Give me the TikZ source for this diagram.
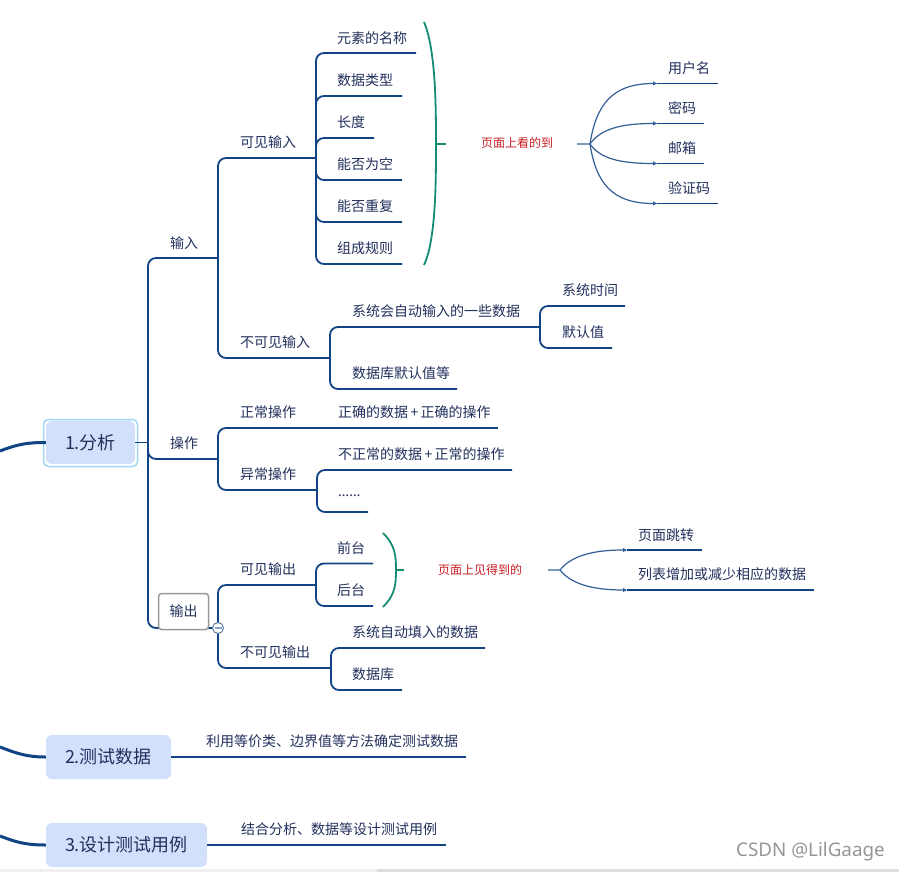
\documentclass[tikz,border=0pt]{standalone}
\usepackage{fontspec}
\setmainfont{Noto Sans CJK SC}
\newfontfamily\latinsans{Noto Sans}
\usetikzlibrary{arrows.meta}
\definecolor{ln}{RGB}{16,68,132}
\definecolor{tx}{RGB}{34,48,92}
\definecolor{boxfill}{RGB}{211,224,252}
\definecolor{selb}{RGB}{160,214,247}
\definecolor{brc}{RGB}{20,140,115}
\definecolor{redt}{RGB}{200,30,35}
\definecolor{fanc}{RGB}{50,95,150}
\definecolor{stubc}{RGB}{125,155,190}
\definecolor{wm}{RGB}{150,150,150}
\begin{document}
\begin{tikzpicture}[x=1pt,y=-1pt,
  conn/.style={draw=ln,line width=1.8pt,rounded corners=8pt},
  rootc/.style={draw=ln,line width=3pt},
  lbl/.style={anchor=west,inner sep=0pt,text=tx,font=\fontsize{14}{16}\selectfont},
  redl/.style={anchor=west,inner sep=0pt,text=redt,font=\fontsize{12}{14}\selectfont},
  topic/.style={rounded corners=6pt,fill=boxfill,inner sep=0pt,text=tx,font=\fontsize{18}{20}\selectfont},
  bracec/.style={draw=brc,line width=1.8pt},
  fanl/.style={draw=fanc,line width=1.2pt,-{Triangle[length=4pt,width=4pt]}},
  stubl/.style={draw=stubc,line width=2pt},
]
\useasboundingbox (0,0) rectangle (899,872);
\fill[white] (0,0) rectangle (899,872);
% bottom bar
\fill[black!6] (0,869) rectangle (377,872);
\fill[black!13] (377,869) rectangle (899,872);

% ---- main topics
\node[topic,minimum width=89pt,minimum height=43pt] (A) at (90.5,442.5) {1.分析};
\draw[selb,line width=1.5pt,rounded corners=5pt] (43.5,419.5) rectangle (137.5,466.5);
\node[topic,minimum width=125pt,minimum height=44pt] (B) at (108.5,757) {2.测试数据};
\node[topic,minimum width=161pt,minimum height=44pt] (C) at (126.5,845) {3.设计测试用例};

\coordinate (rA) at (0,451);
\coordinate (rB) at (0,747);
\coordinate (rC) at (0,836);
\draw[rootc] (rA) .. controls (18,444) and (28,442.5) .. (A.west);
\draw[rootc] (rB) .. controls (18,754) and (28,757) .. (B.west);
\draw[rootc] (rC) .. controls (18,843) and (28,845) .. (C.west);

% ---- coordinates (ends of underlines)
\coordinate (jA) at (148,442.5);
\coordinate (in) at (218,258);
\coordinate (op) at (218,459);
\coordinate (out) at (218,628);
\coordinate (kj) at (316,158);
\coordinate (bkj) at (330,358);
\coordinate (k1) at (416,53);
\coordinate (k2) at (402,96);
\coordinate (k3) at (374,138);
\coordinate (k4) at (402,180);
\coordinate (k5) at (402,222);
\coordinate (k6) at (402,264);
\coordinate (b1) at (540,327);
\coordinate (b2) at (457,389);
\coordinate (b11) at (625,306);
\coordinate (b12) at (612,348);
\coordinate (o1) at (316,428);
\coordinate (o2) at (317,490);
\coordinate (o11) at (498,428);
\coordinate (o21) at (512,470);
\coordinate (o22) at (368,512);
\coordinate (v1) at (316,585);
\coordinate (v2) at (331,668);
\coordinate (v11) at (373,563.5);
\coordinate (v12) at (373,606);
\coordinate (v21) at (485,648);
\coordinate (v22) at (402,690);

% ---- connectors
\draw[conn] (A.east) -- (jA);
\draw[conn] (jA) |- (in);
\draw[conn] (jA) |- (op);
\draw[conn] (jA) |- (out);
\draw[conn] (in) |- (kj);
\draw[conn] (in) |- (bkj);
\foreach \k in {k1,k2,k3,k4,k5,k6} \draw[conn] (kj) |- (\k);
\draw[conn] (bkj) |- (b1);
\draw[conn] (bkj) |- (b2);
\draw[conn] (b1) |- (b11);
\draw[conn] (b1) |- (b12);
\draw[conn] (op) |- (o1);
\draw[conn] (op) |- (o2);
\draw[conn] (o1) -- (o11);
\draw[conn] (o2) |- (o21);
\draw[conn] (o2) |- (o22);
\draw[conn] (out) |- (v1);
\draw[conn] (out) |- (v2);
\draw[conn] (v1) |- (v11);
\draw[conn] (v1) |- (v12);
\draw[conn] (v2) |- (v21);
\draw[conn] (v2) |- (v22);
\coordinate (Bl) at (466,757);
\coordinate (Cl) at (446,845);
\draw[conn] (B.east) -- (Bl);
\draw[conn] (C.east) -- (Cl);

% ---- labels
\node[lbl] (t-in) at (170,243) {输入};
\node[lbl] (t-op) at (170,443) {操作};
\node[draw=black!40,line width=1.5pt,rounded corners=3pt,fill=white,minimum width=50pt,minimum height=36pt,inner sep=0pt,text=tx,font=\fontsize{14}{16}\selectfont] (t-out) at (183.5,611.5) {输出};
\node[circle,draw=ln!70,fill=white,line width=1pt,minimum size=11pt,inner sep=0pt] (col) at (out) {};
\draw[ln!50,line width=1.5pt] ([xshift=-3.5pt]col.center) -- ([xshift=3.5pt]col.center);

\node[lbl] (t-kj) at (240,142) {可见输入};
\node[lbl] (t-bkj) at (240,342) {不可见输入};
\node[lbl] (t-k1) at (337,38) {元素的名称};
\node[lbl] (t-k2) at (337,80) {数据类型};
\node[lbl] (t-k3) at (337,122) {长度};
\node[lbl] (t-k4) at (337,164) {能否为空};
\node[lbl] (t-k5) at (337,206) {能否重复};
\node[lbl] (t-k6) at (337,248) {组成规则};
\node[lbl] (t-b1) at (352,311) {系统会自动输入的一些数据};
\node[lbl] (t-b2) at (352,373) {数据库默认值等};
\node[lbl] (t-b11) at (562,290) {系统时间};
\node[lbl] (t-b12) at (562,332) {默认值};
\node[lbl] (t-o1) at (240,412) {正常操作};
\node[lbl] (t-o2) at (240,474) {异常操作};
\node[lbl] (t-o11) at (338,412) {正确的数据\,+\,正确的操作};
\node[lbl] (t-o21) at (338,454) {不正常的数据\,+\,正常的操作};
\node[lbl] (t-o22) at (338,496) {{\latinsans ……}};
\node[lbl] (t-v1) at (240,569) {可见输出};
\node[lbl] (t-v2) at (240,652) {不可见输出};
\node[lbl] (t-v11) at (337,548) {前台};
\node[lbl] (t-v12) at (337,590) {后台};
\node[lbl] (t-v21) at (352,632) {系统自动填入的数据};
\node[lbl] (t-v22) at (352,674) {数据库};
\node[lbl] (t-B) at (206,741) {利用等价类、边界值等方法确定测试数据};
\node[lbl] (t-C) at (241,829) {结合分析、数据等设计测试用例};

% ---- brace 1 and fan 1
\coordinate (br1t) at (424,22);
\coordinate (br1b) at (424,265);
\coordinate (br1m) at (436,144);
\coordinate (br1x) at (446,144);
\draw[bracec] (br1t) .. controls (436,50) and (436,110) .. (br1m) .. controls (436,180) and (436,240) .. (br1b);
\draw[bracec] (br1m) -- (br1x);
\node[redl] (fa) at (481,143) {页面上看的到};
\coordinate (fa0) at (577,144);
\coordinate (fa1) at (590,144);
\draw[stubl] (fa0) -- (fa1);
\coordinate (u1s) at (657,83.5);
\coordinate (u2s) at (657,123.5);
\coordinate (u3s) at (657,163.5);
\coordinate (u4s) at (657,203.5);
\coordinate (u1) at (718,83.5);
\coordinate (u2) at (704,123.5);
\coordinate (u3) at (704,163.5);
\coordinate (u4) at (718,203.5);
\draw[fanl] (fa1) .. controls (596,105) and (612,83.5) .. (u1s);
\draw[fanl] (fa1) .. controls (600,130) and (618,123.5) .. (u2s);
\draw[fanl] (fa1) .. controls (600,158) and (618,163.5) .. (u3s);
\draw[fanl] (fa1) .. controls (596,183) and (612,203.5) .. (u4s);
\draw[conn] (u1s) -- (u1);
\draw[conn] (u2s) -- (u2);
\draw[conn] (u3s) -- (u3);
\draw[conn] (u4s) -- (u4);
\node[lbl] (t-u1) at (668,68) {用户名};
\node[lbl] (t-u2) at (668,108) {密码};
\node[lbl] (t-u3) at (668,148) {邮箱};
\node[lbl] (t-u4) at (668,188) {验证码};

% ---- brace 2 and fan 2
\coordinate (br2t) at (383,533);
\coordinate (br2b) at (383,607);
\coordinate (br2m) at (396,570);
\coordinate (br2x) at (404,570);
\draw[bracec] (br2t) .. controls (395,545) and (396,555) .. (br2m) .. controls (396,585) and (395,595) .. (br2b);
\draw[bracec] (br2m) -- (br2x);
\node[redl] (fb) at (438,569.5) {页面上见得到的};
\coordinate (fb0) at (548,570);
\coordinate (fb1) at (560,570);
\draw[stubl] (fb0) -- (fb1);
\coordinate (w1s) at (627,550);
\coordinate (w2s) at (627,590);
\coordinate (w1) at (702,550);
\coordinate (w2) at (814,590);
\draw[fanl] (fb1) .. controls (572,555) and (595,550) .. (w1s);
\draw[fanl] (fb1) .. controls (572,585) and (595,590) .. (w2s);
\draw[conn] (w1s) -- (w1);
\draw[conn] (w2s) -- (w2);
\node[lbl] (t-w1) at (638,535) {页面跳转};
\node[lbl] (t-w2) at (638,574) {列表增加或减少相应的数据};

% ---- watermark
\node[anchor=west,inner sep=0pt,text=wm,font=\latinsans\fontsize{18.8}{21}\selectfont] (wmk) at (736,852) {CSDN @LilGaage};
\end{tikzpicture}
\end{document}
